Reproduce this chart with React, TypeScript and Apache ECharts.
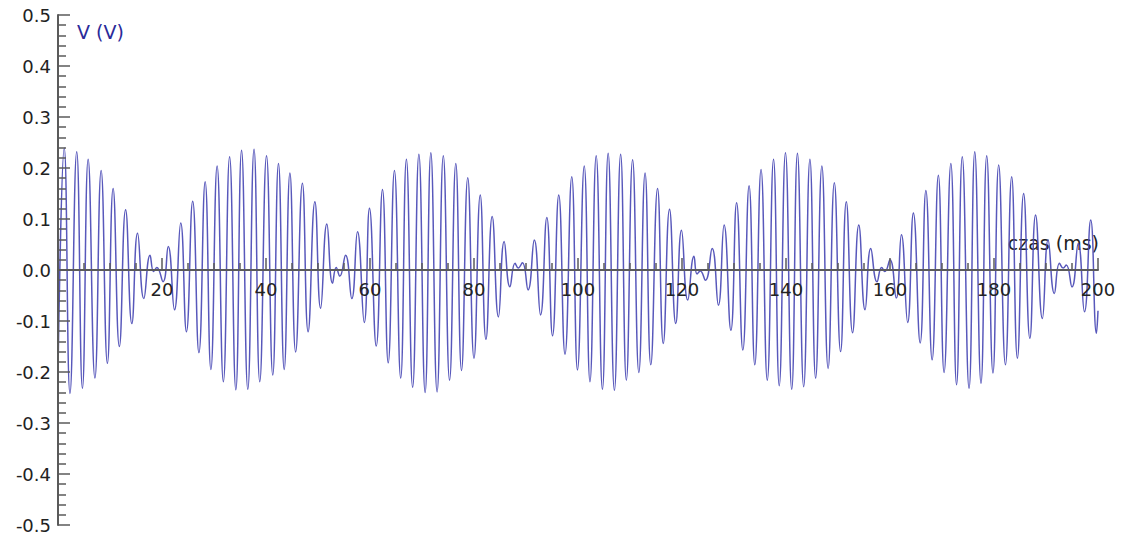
import React, { useEffect, useRef } from "react";
import * as echarts from "echarts";

// Extrema of the waveform (time in ms, voltage in V)
const times: number[] = [
  0, 1.2, 2.3, 3.6, 4.7, 5.8, 7.1, 8.3, 9.5, 10.6, 11.8, 13.0, 14.2, 15.3, 16.5, 17.7, 18.4, 19.0, 20.2,
  21.2, 22.4, 23.6, 24.7, 25.9, 27.1, 28.3, 29.4, 30.6, 31.8, 33.0, 34.2, 35.3, 36.5, 37.7, 38.8, 40.1,
  41.3, 42.4, 43.5, 44.6, 45.7, 47.0, 48.1, 49.4, 50.5, 51.7, 52.8, 53.5, 54.2,
  55.3, 56.5, 57.6, 58.9, 59.9, 61.2, 62.4, 63.5, 64.7, 65.9, 67.0, 68.2, 69.4, 70.6, 71.7, 72.9, 74.1,
  75.3, 76.5, 77.6, 78.8, 80.0, 81.2, 82.3, 83.5, 84.7, 85.8, 86.9, 87.9, 88.5, 89.3, 90.4,
  91.6, 92.8, 94.0, 95.1, 96.3, 97.5, 98.8, 99.9, 101.2, 102.3, 103.5, 104.7, 105.8, 107.0, 108.2,
  109.3, 110.5, 111.7, 112.9, 114.0, 115.3, 116.4, 117.6, 118.8, 119.9, 121.1, 122.3, 122.9, 123.5, 124.5,
  125.8, 127.0, 128.1, 129.4, 130.5, 131.7, 132.9, 134.0, 135.2, 136.4, 137.6, 138.7, 139.9, 141.1,
  142.2, 143.4, 144.6, 145.7, 146.9, 148.1, 149.3, 150.5, 151.6, 152.8, 154.0, 155.2, 156.3, 157.5,
  158.4, 159.0, 160.0, 161.2, 162.2, 163.4, 164.5, 165.8, 166.9, 168.1, 169.3, 170.4, 171.7, 172.8,
  173.9, 175.2, 176.3, 177.5, 178.6, 179.8, 180.9, 182.2, 183.4, 184.5, 185.7, 186.9, 188.0, 189.3,
  190.4, 191.6, 192.6, 193.3, 193.9, 195.0, 196.2, 197.4, 198.6, 199.7, 200,
];

const volts: number[] = [
  -0.2, 0.239, -0.242, 0.232, -0.232, 0.217, -0.212, 0.195, -0.183, 0.16, -0.15, 0.118, -0.105, 0.072, -0.056, 0.029, -0.003, 0.005, -0.023,
  0.046, -0.078, 0.092, -0.121, 0.135, -0.162, 0.173, -0.195, 0.204, -0.219, 0.222, -0.235, 0.235, -0.234, 0.237, -0.219, 0.224,
  -0.206, 0.209, -0.195, 0.19, -0.161, 0.17, -0.121, 0.134, -0.075, 0.09, -0.026, 0.005, -0.012,
  0.029, -0.056, 0.075, -0.103, 0.121, -0.149, 0.158, -0.182, 0.195, -0.212, 0.217, -0.23, 0.227, -0.24, 0.23, -0.239, 0.224,
  -0.216, 0.209, -0.197, 0.181, -0.173, 0.147, -0.136, 0.105, -0.092, 0.056, -0.033, 0.013, 0.004, 0.014, -0.039,
  0.059, -0.088, 0.103, -0.129, 0.147, -0.165, 0.183, -0.196, 0.204, -0.219, 0.224, -0.234, 0.229, -0.236, 0.227,
  -0.216, 0.216, -0.201, 0.19, -0.186, 0.16, -0.144, 0.119, -0.105, 0.078, -0.059, 0.027, -0.008, -0.002, -0.02,
  0.042, -0.069, 0.088, -0.118, 0.132, -0.157, 0.165, -0.186, 0.197, -0.216, 0.217, -0.227, 0.23, -0.234,
  0.229, -0.229, 0.217, -0.212, 0.204, -0.193, 0.171, -0.16, 0.134, -0.123, 0.088, -0.078, 0.042, -0.023,
  0.005, -0.003, 0.02, -0.055, 0.069, -0.103, 0.112, -0.143, 0.156, -0.176, 0.186, -0.201, 0.209, -0.225,
  0.222, -0.232, 0.232, -0.222, 0.224, -0.202, 0.206, -0.186, 0.183, -0.173, 0.15, -0.134, 0.108, -0.095,
  0.059, -0.046, 0.013, 0.004, 0.01, -0.033, 0.052, -0.082, 0.098, -0.124, -0.08,
];

const xRange = [0, 200];
const yRange = [-0.5, 0.5];
const yAxisTitle = "V (V)";
const xAxisTitle = "czas (ms)";

const GRID_TOP = 15;
const GRID_HEIGHT = 510;

export default function App() {
  const ref = useRef<HTMLDivElement>(null);

  useEffect(() => {
    if (!ref.current) return;
    const chart = echarts.init(ref.current, undefined, { renderer: "svg" });
    const data = times.map((t, i) => [t, volts[i]]);
    const font = "DejaVu Sans";
    const axisColor = "#5a5a5a";
    chart.setOption({
      animation: false,
      backgroundColor: "#ffffff",
      grid: {
        left: 58,
        top: GRID_TOP,
        width: 1040,
        height: GRID_HEIGHT,
        containLabel: false,
        outerBoundsMode: "none",
      },
      xAxis: {
        type: "value",
        min: xRange[0],
        max: xRange[1],
        interval: 20,
        position: "bottom",
        // move the axis from the grid bottom up to the zero line
        offset: -GRID_HEIGHT / 2,
        z: 5,
        axisLine: { show: true, onZero: false, lineStyle: { color: axisColor, width: 2 } },
        axisTick: { show: true, inside: true, length: 12, lineStyle: { color: axisColor, width: 1.5 } },
        minorTick: { show: true, splitNumber: 4, length: 7, lineStyle: { color: axisColor, width: 1.5 } },
        splitLine: { show: false },
        minorSplitLine: { show: false },
        axisLabel: {
          show: true,
          margin: 10,
          color: "#222222",
          fontFamily: font,
          fontSize: 18,
          formatter: (v: number) => (v === 0 ? "" : String(v)),
        },
      },
      yAxis: {
        type: "value",
        min: yRange[0],
        max: yRange[1],
        interval: 0.1,
        z: 5,
        axisLine: { show: true, onZero: false, lineStyle: { color: axisColor, width: 2 } },
        axisTick: { show: true, inside: true, length: 12, lineStyle: { color: axisColor, width: 1.5 } },
        minorTick: { show: true, splitNumber: 5, length: 8, lineStyle: { color: axisColor, width: 1.5 } },
        splitLine: { show: false },
        axisLabel: {
          show: true,
          margin: 7,
          color: "#222222",
          fontFamily: font,
          fontSize: 18,
          formatter: (v: number) => v.toFixed(1),
        },
      },
      graphic: [
        {
          type: "text",
          left: 77,
          top: 22,
          style: { text: yAxisTitle, fill: "#2a2a99", font: `19px "${font}"` },
        },
        {
          type: "text",
          right: 27,
          top: 233,
          style: { text: xAxisTitle, fill: "#222222", font: `19px "${font}"` },
        },
      ],
      series: [
        {
          type: "line",
          data,
          showSymbol: false,
          smooth: 0.5,
          z: 2,
          lineStyle: { color: "#4646b4", width: 1.5, opacity: 0.9 },
        },
      ],
    });
    return () => chart.dispose();
  }, []);

  return (
    <div
      ref={ref}
      style={{ position: "fixed", left: 0, top: 0, width: 1126, height: 539, background: "#fff" }}
    />
  );
}
